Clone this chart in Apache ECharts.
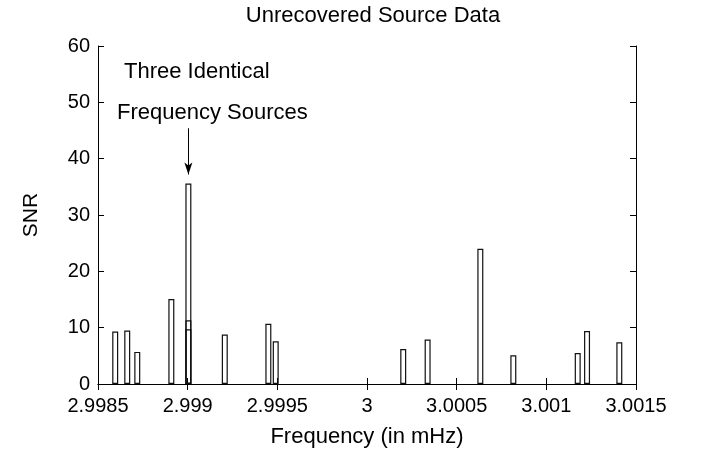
<!DOCTYPE html>
<html>
<head>
<meta charset="utf-8">
<script src="https://cdn.jsdelivr.net/npm/echarts@6/dist/echarts.min.js"></script>
<style>
  html, body { margin: 0; padding: 0; background: #fff; }
  #chart { width: 701px; height: 458px; }
</style>
</head>
<body>
<div id="chart"></div>
<script>
// peak frequencies (mHz) and their SNR
const freqs = [2.998596, 2.998663, 2.998719, 2.998909, 2.999004, 2.999004, 2.999004,
  2.999207, 2.999450, 2.999491, 3.000202, 3.000338, 3.000632, 3.000816,
  3.001175, 3.001227, 3.001407]
const snr = [9.3, 9.5, 5.7, 15.1, 35.6, 11.3, 9.7,
  8.8, 10.7, 7.6, 6.2, 7.9, 24.0, 5.1,
  5.5, 9.4, 7.4]
const xTicks = [2.9985, 2.999, 2.9995, 3, 3.0005, 3.001, 3.0015]
const yTicks = [0, 10, 20, 30, 40, 50, 60]

const font = 'Liberation Sans'
const chart = echarts.init(document.getElementById('chart'))

const tickLabel = { fontFamily: font, fontSize: 20, color: '#000' }
const axisLine = { show: true, lineStyle: { color: '#000', width: 1 } }
const ticks = { show: true, inside: true, length: 6, lineStyle: { color: '#000' } }

chart.setOption({
  animation: false,
  title: {
    text: 'Unrecovered Source Data',
    left: 368,
    top: 0,
    textAlign: 'center',
    textStyle: { fontFamily: font, fontSize: 22, fontWeight: 'normal', color: '#000' }
  },
  grid: { left: 98, right: 65, top: 46, bottom: 74 },
  xAxis: [{
    type: 'value',
    min: xTicks[0],
    max: xTicks[xTicks.length - 1],
    interval: 0.0005,
    name: 'Frequency (in mHz)',
    nameLocation: 'middle',
    nameGap: 42,
    nameTextStyle: { fontFamily: font, fontSize: 22, color: '#000' },
    axisLine: axisLine,
    axisTick: ticks,
    axisLabel: Object.assign({ margin: 12, formatter: v => String(+v.toFixed(4)) }, tickLabel),
    splitLine: { show: false }
  }, {
    type: 'value',
    position: 'top',
    min: xTicks[0],
    max: xTicks[xTicks.length - 1],
    interval: 0.0005,
    axisLine: axisLine,
    axisTick: ticks,
    axisLabel: { show: false },
    splitLine: { show: false }
  }],
  yAxis: [{
    type: 'value',
    min: yTicks[0],
    max: yTicks[yTicks.length - 1],
    interval: 10,
    name: 'SNR',
    nameLocation: 'middle',
    nameGap: 56,
    nameRotate: 90,
    nameTextStyle: { fontFamily: font, fontSize: 21, color: '#000' },
    axisLine: axisLine,
    axisTick: ticks,
    axisLabel: Object.assign({ margin: 8 }, tickLabel),
    splitLine: { show: false }
  }, {
    type: 'value',
    position: 'right',
    min: yTicks[0],
    max: yTicks[yTicks.length - 1],
    interval: 10,
    axisLine: axisLine,
    axisTick: ticks,
    axisLabel: { show: false },
    splitLine: { show: false }
  }],
  graphic: [{
    type: 'text',
    left: 124,
    top: 61,
    style: { text: 'Three Identical', font: '22px "Liberation Sans"', fill: '#000' }
  }, {
    type: 'text',
    left: 117,
    top: 102,
    style: { text: 'Frequency Sources', font: '22px "Liberation Sans"', fill: '#000' }
  }],
  series: [{
    type: 'bar',
    data: freqs.map((f, i) => [f, snr[i]]),
    barWidth: 6,
    itemStyle: { color: 'rgba(0,0,0,0)', borderColor: '#111', borderWidth: 1.2 },
    markLine: {
      silent: true,
      symbol: ['none', 'arrow'],
      symbolSize: [6, 12],
      label: { show: false },
      lineStyle: { color: '#000', width: 1, type: 'solid' },
      data: [[{ coord: [2.999004, 45.4] }, { coord: [2.999004, 37.2] }]]
    }
  }]
})
</script>
</body>
</html>
